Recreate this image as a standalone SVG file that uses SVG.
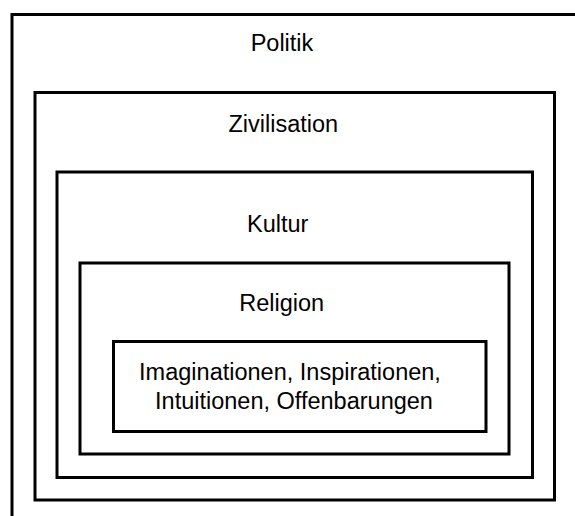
<svg xmlns="http://www.w3.org/2000/svg" width="575" height="516" viewBox="0 0 575 516">
<style>
.box{fill:none;stroke:#000;stroke-width:3}
.lbl{font-family:"Liberation Sans",Arial,sans-serif;font-size:23.5px;fill:#000;text-anchor:middle}
</style>
<rect width="575" height="516" fill="#fff"/>
<g id="politik">
<rect class="box" x="12" y="14.5" width="600" height="600"/>
<text class="lbl" x="282" y="51">Politik</text>
</g>
<g id="zivilisation">
<rect class="box" x="35" y="92.5" width="519.5" height="407.5"/>
<text class="lbl" x="283.3" y="131.5">Zivilisation</text>
</g>
<g id="kultur">
<rect class="box" x="57" y="172" width="475.5" height="305.5"/>
<text class="lbl" x="277.7" y="232">Kultur</text>
</g>
<g id="religion">
<rect class="box" x="80" y="263" width="429" height="191"/>
<text class="lbl" x="281.7" y="310.5">Religion</text>
</g>
<g id="offenbarungen">
<rect class="box" x="113.5" y="341.5" width="372.5" height="90"/>
<text class="lbl" x="290" y="380">Imaginationen, Inspirationen,</text>
<text class="lbl" x="294" y="408.5">Intuitionen, Offenbarungen</text>
</g>
<g id="connectors"></g>
</svg>
